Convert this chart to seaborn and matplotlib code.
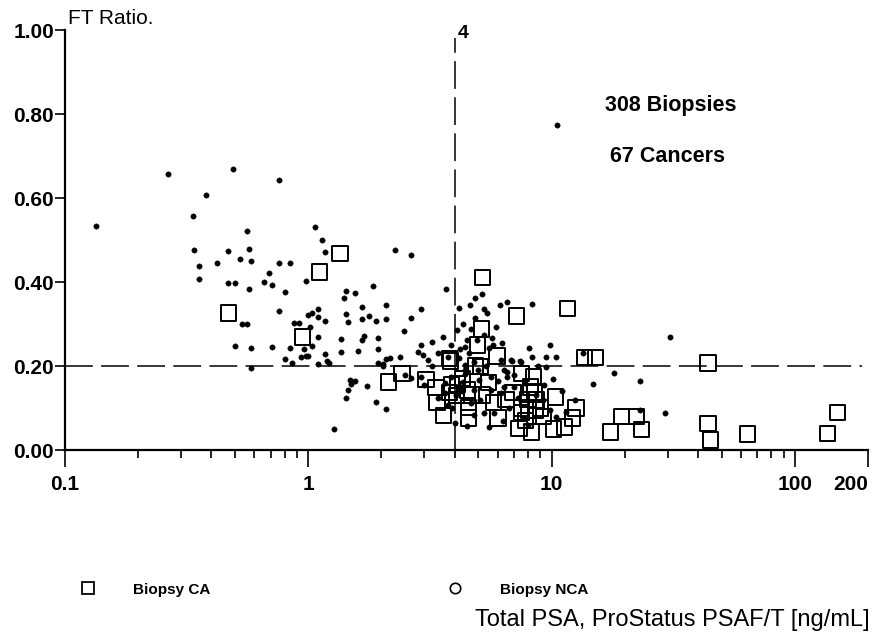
import numpy as np
import pandas as pd
import matplotlib
matplotlib.use("Agg")
import matplotlib.pyplot as plt
from matplotlib.lines import Line2D
import seaborn as sns

# ---------------- data ----------------
ca_psa = [0.47, 0.95, 1.11, 1.35, 2.13, 2.43, 3.05, 3.35, 3.38, 3.6, 3.81, 3.81,
          5.2, 7.2, 11.6, 5.15, 4.96, 5.97, 3.85, 4.86, 5.1, 13.7, 15.2, 44.0,
          3.88, 4.1, 4.07, 4.51, 4.68, 5.2, 4.55, 4.55, 5.76, 6.03,
          7.55, 8.45, 8.5, 6.94, 7.5, 8.06, 8.6, 7.55, 8.7, 7.35, 8.3, 10.2, 10.4,
          11.3, 12.2, 12.6, 17.5, 19.4, 22.4, 23.4, 44.0, 45.0, 64.0, 136.0, 150.0,
          8.0, 9.0, 7.8, 9.3, 6.5, 4.3, 5.5, 8.2]
ca_ratio = [0.326, 0.269, 0.424, 0.467, 0.162, 0.183, 0.167, 0.148, 0.114, 0.083, 0.217, 0.136,
            0.41, 0.319, 0.336, 0.288, 0.25, 0.224, 0.212, 0.20, 0.198, 0.221, 0.221, 0.207,
            0.155, 0.157, 0.129, 0.143, 0.131, 0.131, 0.102, 0.076, 0.114, 0.076,
            0.183, 0.174, 0.138, 0.136, 0.10, 0.095, 0.095, 0.09, 0.119, 0.052, 0.043, 0.05, 0.126,
            0.055, 0.076, 0.10, 0.043, 0.079, 0.079, 0.048, 0.064, 0.024, 0.038, 0.04, 0.09,
            0.12, 0.10, 0.07, 0.08, 0.12, 0.17, 0.16, 0.15]

nca_psa = [0.134, 0.265, 0.337, 0.38, 0.49, 0.56, 0.76, 1.07, 1.14, 1.17,
           0.34, 0.467, 0.572, 0.357, 0.42, 0.525, 0.58, 0.76, 0.845, 0.357,
           0.467, 0.50, 0.572, 0.66, 0.69, 0.71, 0.805, 0.98, 0.76, 0.535,
           0.56, 0.50, 0.58, 0.71, 0.845, 0.805, 0.857, 0.87, 0.92, 1.0,
           1.04, 1.1, 1.1, 1.02, 1.17, 1.1, 1.04, 0.935, 0.98, 1.0,
           1.1, 1.17, 1.19, 1.22, 0.58, 0.96, 1.28, 1.43, 1.56, 1.40,
           1.43, 1.45, 1.36, 1.36, 1.66, 1.66, 1.69, 1.67, 1.77, 1.84,
           1.9, 2.08, 2.08, 1.94, 1.94, 1.94, 2.02, 2.08, 2.16, 2.38,
           2.28, 2.64, 2.64, 2.48, 2.92, 2.92, 2.83, 2.95, 3.22, 3.57,
           3.67, 3.88, 1.48, 1.50, 1.56, 1.45, 1.43, 1.74, 1.9, 2.08,
           2.64, 2.99, 3.22, 1.6, 2.02, 4.18, 4.31, 4.1, 5.19, 4.86,
           4.64, 5.3, 5.45, 6.15, 6.55, 8.3, 4.86, 4.68, 5.9, 5.7,
           4.39, 4.6, 5.55, 5.76, 6.25, 8.06, 9.9, 9.5, 10.4, 8.3,
           6.8, 7.5, 6.2, 7.4, 4.18, 4.39, 6.4, 6.55, 7.0, 9.5,
           10.1, 9.3, 14.8, 18.0, 23.2, 30.7, 29.3, 23.0, 13.5, 10.5,
           5.65, 6.4, 6.2, 7.0, 5.3, 5.8, 5.55, 4.5, 4.0, 4.8,
           10.4, 9.9, 3.64, 3.4, 3.75, 2.92, 2.5, 4.31, 5.05, 5.65,
           4.8, 4.68, 3.64, 3.88, 4.39, 4.8, 4.51, 4.96, 5.3, 3.75,
           3.4, 3.1, 6.55, 6.85,
           4.2, 4.4, 5.0, 5.4, 6.0, 7.8, 8.6, 8.8, 9.2, 7.3,
           11.0, 12.5, 4.05, 6.7, 8.0, 11.5, 3.9, 4.3, 5.1, 6.3]
nca_ratio = [0.533, 0.657, 0.557, 0.607, 0.669, 0.521, 0.643, 0.532, 0.500, 0.471,
             0.476, 0.474, 0.478, 0.438, 0.445, 0.455, 0.45, 0.445, 0.445, 0.407,
             0.398, 0.398, 0.383, 0.40, 0.421, 0.393, 0.376, 0.402, 0.331, 0.30,
             0.30, 0.248, 0.243, 0.245, 0.243, 0.217, 0.207, 0.302, 0.302, 0.321,
             0.326, 0.336, 0.317, 0.293, 0.307, 0.269, 0.248, 0.221, 0.224, 0.224,
             0.205, 0.229, 0.212, 0.207, 0.195, 0.24, 0.05, 0.379, 0.374, 0.362,
             0.324, 0.305, 0.264, 0.233, 0.34, 0.312, 0.271, 0.262, 0.319, 0.39,
             0.307, 0.345, 0.312, 0.267, 0.24, 0.207, 0.205, 0.217, 0.219, 0.221,
             0.476, 0.464, 0.314, 0.283, 0.336, 0.25, 0.233, 0.226, 0.257, 0.269,
             0.383, 0.25, 0.167, 0.157, 0.164, 0.143, 0.124, 0.152, 0.114, 0.098,
             0.171, 0.155, 0.20, 0.236, 0.20, 0.338, 0.30, 0.286, 0.371, 0.362,
             0.345, 0.336, 0.326, 0.345, 0.352, 0.348, 0.314, 0.288, 0.293, 0.267,
             0.245, 0.231, 0.243, 0.25, 0.255, 0.243, 0.25, 0.221, 0.221, 0.221,
             0.214, 0.21, 0.214, 0.212, 0.219, 0.19, 0.19, 0.174, 0.179, 0.198,
             0.169, 0.155, 0.157, 0.183, 0.164, 0.269, 0.088, 0.095, 0.231, 0.774,
             0.143, 0.15, 0.136, 0.15, 0.088, 0.088, 0.055, 0.057, 0.064, 0.083,
             0.079, 0.095, 0.159, 0.124, 0.107, 0.174, 0.179, 0.162, 0.167, 0.174,
             0.143, 0.112, 0.136, 0.174, 0.202, 0.21, 0.262, 0.262, 0.274, 0.221,
             0.231, 0.214, 0.186, 0.212,
             0.24, 0.18, 0.19, 0.20, 0.165, 0.16, 0.13, 0.20, 0.12, 0.125,
             0.14, 0.12, 0.13, 0.10, 0.06, 0.09, 0.10, 0.14, 0.12, 0.07]

x_ticks = [0.1, 1, 10, 100, 200]
x_tick_labels = ["0.1", "1", "10", "100", "200"]
x_minor = [0.2, 0.3, 0.4, 0.5, 0.6, 0.7, 0.8, 0.9,
           2, 3, 4, 5, 6, 7, 8, 9,
           20, 30, 40, 50, 60, 70, 80, 90]
y_ticks = [0.0, 0.2, 0.4, 0.6, 0.8, 1.0]
y_tick_labels = ["0.00", "0.20", "0.40", "0.60", "0.80", "1.00"]
psa_cut = 4
ratio_cut = 0.2

# ---------------- figure ----------------
sns.set_theme(style="white")
plt.rcParams["font.family"] = ["Liberation Sans", "DejaVu Sans"]
plt.rcParams["lines.scale_dashes"] = False
plt.rcParams["text.color"] = "black"

W, H = 886, 635
fig = plt.figure(figsize=(W / 100, H / 100), dpi=100)
ax = fig.add_axes([65 / W, 1 - 450 / H, (868 - 65) / W, (450 - 30) / H])

df_nca = pd.DataFrame({"psa": nca_psa, "ratio": nca_ratio})
df_ca = pd.DataFrame({"psa": ca_psa, "ratio": ca_ratio})

sns.scatterplot(data=df_nca, x="psa", y="ratio", ax=ax, marker="o", s=15,
                color="black", edgecolor="black", linewidth=0.3, legend=False, zorder=3)
sns.scatterplot(data=df_ca, x="psa", y="ratio", ax=ax, marker="s", s=120,
                facecolor="none", edgecolor="black", linewidth=1.4, legend=False, zorder=4)

ax.set_xscale("log")
ax.set_xlim(0.1, 200)
ax.set_ylim(0, 1.0)

# reference lines
ax.axvline(psa_cut, ymin=0, ymax=0.98, color="black", lw=1.1, dashes=(20, 6), zorder=2)
ax.axhline(ratio_cut, xmin=0, xmax=0.993, color="black", lw=1.1, dashes=(20, 6), zorder=2)

# spines / ticks
for s in ["top", "right"]:
    ax.spines[s].set_visible(False)
for s in ["left", "bottom"]:
    ax.spines[s].set_color("black")
    ax.spines[s].set_linewidth(1.6)

ax.set_xticks(x_ticks)
ax.set_xticklabels(x_tick_labels)
ax.set_xticks(x_minor, minor=True)
ax.xaxis.set_minor_formatter(matplotlib.ticker.NullFormatter())
ax.set_yticks(y_ticks)
ax.set_yticklabels(y_tick_labels)
ax.tick_params(axis="x", which="major", direction="out", length=12, width=1.2,
               color="black", labelsize=15, pad=6, bottom=True)
ax.tick_params(axis="x", which="minor", direction="out", length=6, width=1.2,
               color="black", bottom=True)
ax.tick_params(axis="y", which="major", direction="out", length=7, width=1.2,
               color="black", labelsize=15, pad=1, left=True)
for lab in ax.get_xticklabels() + ax.get_yticklabels():
    lab.set_fontweight("bold")
    lab.set_color("black")
ax.get_xticklabels()[-1].set_ha("right")
ax.set_xlabel("")
ax.set_ylabel("")
ax.grid(False)
ax.set_facecolor("white")

# texts
fig.text(68 / W, 1 - 18 / H, "FT Ratio.", fontsize=15, ha="left", va="center", color="black")
fig.text(458 / W, 1 - 33 / H, "4", fontsize=14, fontweight="bold", ha="left", va="center", color="black")
fig.text(671 / W, 1 - 105 / H, "308 Biopsies", fontsize=15.5, fontweight="bold",
         ha="center", va="center", color="black")
fig.text(668 / W, 1 - 156 / H, "67 Cancers", fontsize=15.5, fontweight="bold",
         ha="center", va="center", color="black")

# legend
fig.add_artist(Line2D([88 / W], [1 - 588 / H], transform=fig.transFigure, marker="s",
                      markersize=9, markerfacecolor="none", markeredgecolor="black",
                      markeredgewidth=1.3, linestyle="none"))
fig.text(133 / W, 1 - 590 / H, "Biopsy CA", fontsize=11, fontweight="bold",
         ha="left", va="center", color="black")
fig.add_artist(Line2D([455 / W], [1 - 588 / H], transform=fig.transFigure, marker="o",
                      markersize=7.5, markerfacecolor="none", markeredgecolor="black",
                      markeredgewidth=1.2, linestyle="none"))
fig.text(500 / W, 1 - 590 / H, "Biopsy NCA", fontsize=11, fontweight="bold",
         ha="left", va="center", color="black")

fig.text(870 / W, 1 - 620 / H, "Total PSA, ProStatus PSAF/T [ng/mL]", fontsize=17,
         ha="right", va="center", color="black")

fig.savefig("out.png", dpi=100, facecolor="white")
